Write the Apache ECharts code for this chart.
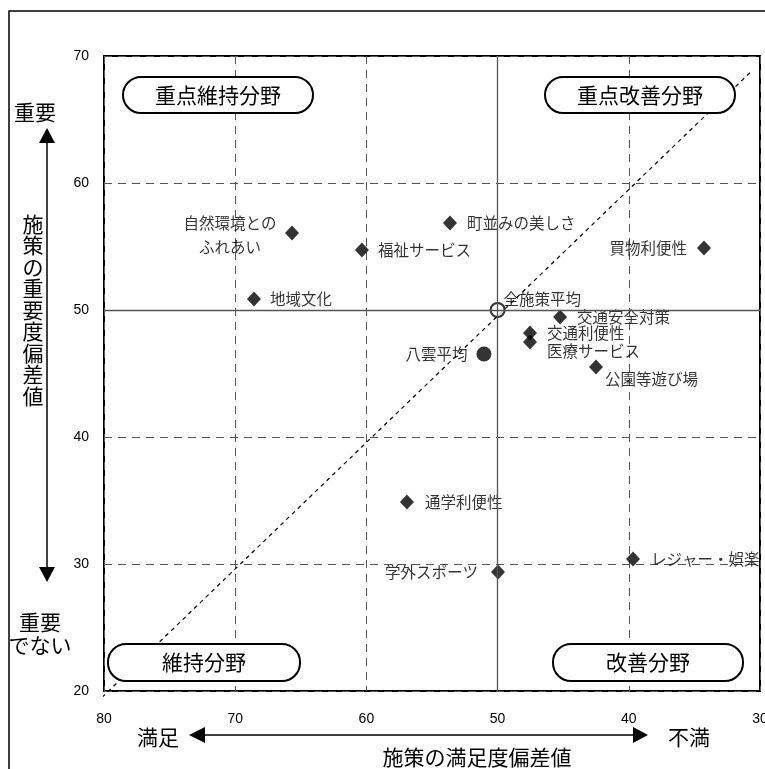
<!DOCTYPE html>
<html>
<head>
<meta charset="utf-8">
<script src="https://cdn.jsdelivr.net/npm/echarts@6/dist/echarts.min.js"></script>
<style>
html,body{margin:0;padding:0;background:#fff;}
#c{width:765px;height:769px;}
</style>
</head>
<body>
<div id="c"></div>
<script>
// ---- data ----
const itemNames = ['自然環境とのふれあい','福祉サービス','町並みの美しさ','地域文化','買物利便性',
  '交通安全対策','交通利便性','医療サービス','公園等遊び場','通学利便性','学外スポーツ','レジャー・娯楽'];
const satisfaction = [65.67, 60.34, 53.63, 68.57, 34.27, 45.24, 47.53, 47.53, 42.5, 56.91, 49.97, 39.68];
const importance   = [56.06, 54.72, 56.85, 50.87, 54.88, 49.45, 48.19, 47.48, 45.51, 34.88, 29.37, 30.39];

const avgNames = ['全施策平均','八雲平均'];
const avgSatisfaction = [50, 51.04];
const avgImportance = [50, 46.54];

const diagonalX = [80.15, 30.75];
const diagonalY = [19.5, 68.7];

const quadrantNames = ['重点維持分野','重点改善分野','維持分野','改善分野'];

// ---- label placement (styles) ----
const labelStyle = {
  '自然環境とのふれあい': {position:'left', distance:5, align:'center', offset:[-50,2], lineHeight:24},
  '福祉サービス': {position:'right', distance:9},
  '町並みの美しさ': {position:'right', distance:10},
  '地域文化': {position:'right', distance:9},
  '買物利便性': {position:'left', distance:10},
  '交通安全対策': {position:'right', distance:10},
  '交通利便性': {position:'right', distance:10},
  '医療サービス': {position:'right', distance:10, offset:[0,9]},
  '公園等遊び場': {position:'right', distance:2, offset:[0,12]},
  '通学利便性': {position:'right', distance:11},
  '学外スポーツ': {position:'left', distance:13},
  'レジャー・娯楽': {position:'right', distance:11},
  '全施策平均': {position:'right', distance:0, offset:[-2,-11]},
  '八雲平均': {position:'left', distance:9}
};
const lineBreaks = {'自然環境とのふれあい':'自然環境との\nふれあい'};

const JP = '"Noto Sans CJK JP", "Noto Sans", sans-serif';

const fmt = p => lineBreaks[p.name] || p.name;
const itemData = itemNames.map((n,i)=>({
  name:n, value:[satisfaction[i], importance[i]],
  label: Object.assign({show:true, formatter:fmt}, labelStyle[n])
}));
const avgData = avgNames.map((n,i)=>({
  name:n, value:[avgSatisfaction[i], avgImportance[i]],
  symbolSize: i===0 ? 14 : 15,
  itemStyle: i===0 ? {color:'#fff', borderColor:'#000', borderWidth:2} : {color:'#000'},
  label: Object.assign({show:true, formatter:fmt}, labelStyle[n])
}));

const chart = echarts.init(document.getElementById('c'), null, {renderer:'canvas'});

const boxes = [
  {x:123, y:77, w:190, h:36, t:quadrantNames[0]},
  {x:545, y:77, w:190, h:36, t:quadrantNames[1]},
  {x:108, y:644, w:192, h:37, t:quadrantNames[2]},
  {x:553, y:644, w:190, h:37, t:quadrantNames[3]}
];
const graphics = [];
boxes.forEach(b=>{
  graphics.push({type:'rect', z:100, shape:{x:b.x, y:b.y, width:b.w, height:b.h, r:18},
    style:{fill:'#fff', stroke:'#000', lineWidth:2}});
  graphics.push({type:'text', z:101, x:b.x+b.w/2, y:b.y+b.h/2,
    style:{text:b.t, font:'21px '+JP, fill:'#000', textAlign:'center', textVerticalAlign:'middle'}});
});
// outer frame
graphics.push({type:'polyline', z:100, shape:{points:[[9,769],[9,11],[765,11]]}, style:{stroke:'#000', lineWidth:1.5, fill:null}});
// vertical arrow
graphics.push({type:'line', z:100, shape:{x1:47,y1:142,x2:47,y2:568}, style:{stroke:'#000', lineWidth:1.5}});
graphics.push({type:'polygon', z:100, shape:{points:[[47,128],[39,143],[55,143]]}, style:{fill:'#000'}});
graphics.push({type:'polygon', z:100, shape:{points:[[47,582],[39,567],[55,567]]}, style:{fill:'#000'}});
// horizontal arrow
graphics.push({type:'line', z:100, shape:{x1:204,y1:735,x2:634,y2:735}, style:{stroke:'#000', lineWidth:1.5}});
graphics.push({type:'polygon', z:100, shape:{points:[[189,735],[205,727],[205,743]]}, style:{fill:'#000'}});
graphics.push({type:'polygon', z:100, shape:{points:[[648,735],[633,727],[633,743]]}, style:{fill:'#000'}});
// texts
const tx = (x,y,t,align,lh)=>({type:'text', z:101, x:x, y:y,
  style:{text:t, font:'21px '+JP, fill:'#000', textAlign:align||'center', textVerticalAlign:'middle', lineHeight:lh||24}});
graphics.push(tx(35,112,'重要'));
graphics.push(tx(40,634,'重要\nでない','center',23));
graphics.push(tx(33,310,'施策の重要度偏差値'.split('').join('\n'),'center',21.5));
graphics.push(tx(158,737,'満足'));
graphics.push(tx(689,737,'不満'));
graphics.push(tx(477,757,'施策の満足度偏差値'));

const dashStyle = {color:'#555', width:1, type:[8,6]};

chart.setOption({
  animation:false,
  backgroundColor:'#fff',
  grid:{left:104, top:56, right:5, bottom:78, containLabel:false, outerBoundsMode:'none',
    show:true, borderColor:'#000', borderWidth:2, backgroundColor:'transparent'},
  xAxis:{type:'value', inverse:true, min:30, max:80, interval:10,
    axisLine:{show:false}, axisTick:{show:false},
    axisLabel:{margin:21, color:'#000', fontSize:14, fontFamily:'Liberation Sans'},
    splitLine:{show:true, lineStyle:dashStyle}},
  yAxis:{type:'value', min:20, max:70, interval:10,
    axisLine:{show:false}, axisTick:{show:false},
    axisLabel:{margin:15, color:'#000', fontSize:14, fontFamily:'Liberation Sans'},
    splitLine:{show:true, lineStyle:dashStyle}},
  graphic:graphics,
  series:[
    {type:'line', data:diagonalX.map((x,i)=>[x, diagonalY[i]]), symbol:'none', clip:false, silent:true, z:1,
      lineStyle:{color:'#000', width:1.2, type:[4,4]},
      markLine:{silent:true, symbol:'none', label:{show:false},
        lineStyle:{color:'#555', width:1.3, type:'solid'},
        data:[{xAxis:50},{yAxis:50}]}},
    {type:'scatter', data:itemData, symbol:'diamond', symbolSize:[14,15], z:3,
      itemStyle:{color:'#000'},
      label:{color:'#000', fontSize:15.5, fontFamily:JP}},
    {type:'scatter', data:avgData, symbol:'circle', z:4,
      label:{color:'#000', fontSize:15.5, fontFamily:JP}}
  ]
});
</script>
</body>
</html>
